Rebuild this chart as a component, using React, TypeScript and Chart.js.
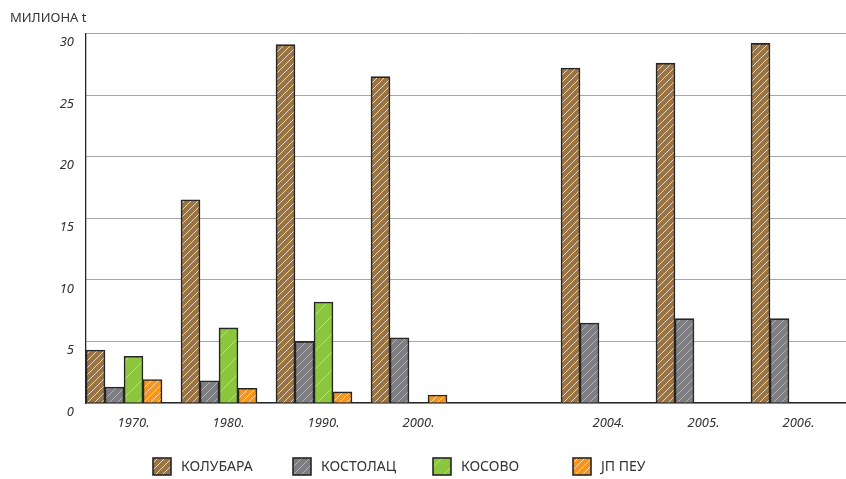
import React, { useEffect, useRef } from 'react';
import { Chart, registerables } from 'chart.js';

Chart.register(...registerables);

const categories = ['1970.', '1980.', '1990.', '2000.', '', '2004.', '2005.', '2006.'];
const kolubara = [4.3, 16.5, 29.1, 26.5, null, 27.2, 27.6, 29.2];
const kostolac = [1.3, 1.8, 5.0, 5.3, null, 6.5, 6.85, 6.85];
const kosovo = [3.8, 6.1, 8.2, 0, null, null, null, null];
const jpPeu = [1.9, 1.2, 0.9, 0.65, null, null, null, null];
const seriesLabels = ['КОЛУБАРА', 'КОСТОЛАЦ', 'КОСОВО', 'ЈП ПЕУ'];
const seriesColors = ['#9b7443', '#7e7e82', '#8cc63f', '#f7941d'];
const yAxisTitle = 'МИЛИОНА t';
const yMin = 0;
const yMax = 30;
const yStep = 5;

const FONT = "'Noto Sans', 'DejaVu Sans', sans-serif";
const TEXT = '#333333';
const EDGE = '#262626';

function makePattern(color: string, size: number, alpha: number, width: number) {
  const c = document.createElement('canvas');
  c.width = size;
  c.height = size;
  const g = c.getContext('2d') as CanvasRenderingContext2D;
  g.fillStyle = color;
  g.fillRect(0, 0, size, size);
  g.strokeStyle = `rgba(255,255,255,${alpha})`;
  g.lineWidth = width;
  g.beginPath();
  for (const k of [-size, 0, size]) {
    g.moveTo(k, size);
    g.lineTo(k + size, 0);
  }
  g.stroke();
  return g.createPattern(c, 'repeat') as CanvasPattern;
}

const legendPlugin = {
  id: 'sketchLegend',
  afterDraw(chart: any) {
    const ctx = chart.ctx as CanvasRenderingContext2D;
    const items = chart.data.datasets.filter((d: any) => d.label);
    const colW = 140;
    const start = chart.width / 2 - (items.length * colW) / 2 + 10;
    const cy = chart.height - 12;
    ctx.save();
    items.forEach((d: any, i: number) => {
      const x = start + i * colW;
      ctx.fillStyle = d.backgroundColor;
      ctx.fillRect(x, cy - 9, 18, 17);
      ctx.strokeStyle = EDGE;
      ctx.lineWidth = 1.6;
      ctx.strokeRect(x, cy - 9, 18, 17);
      ctx.fillStyle = TEXT;
      ctx.font = `14px ${FONT}`;
      ctx.textBaseline = 'middle';
      ctx.textAlign = 'left';
      ctx.fillText(d.label, x + 28, cy);
    });
    ctx.restore();
  },
};

export default function App() {
  const ref = useRef<HTMLCanvasElement | null>(null);

  useEffect(() => {
    document.body.style.margin = '0';
    const canvas = ref.current;
    if (!canvas) return;
    const patterns = [
      makePattern(seriesColors[0], 7, 0.7, 1.0),
      makePattern(seriesColors[1], 8, 0.4, 1.0),
      makePattern(seriesColors[2], 18, 0.4, 1.0),
      makePattern(seriesColors[3], 7, 0.7, 1.0),
    ];
    const values = [kolubara, kostolac, kosovo, jpPeu];
    const datasets: any[] = values.map((v, i) => ({
      label: seriesLabels[i],
      data: v,
      backgroundColor: patterns[i],
      borderColor: EDGE,
      borderWidth: 1.6,
      borderSkipped: 'start',
      categoryPercentage: 1,
      barPercentage: 1,
    }));
    // empty spacer slot so each group sits at the left of its category
    datasets.push({
      label: '',
      data: categories.map(() => null),
      backgroundColor: 'transparent',
      borderWidth: 0,
      categoryPercentage: 1,
      barPercentage: 1,
    });

    const chart = new Chart(canvas, {
      type: 'bar',
      data: { labels: categories, datasets },
      plugins: [legendPlugin],
      options: {
        responsive: false,
        animation: false,
        layout: { padding: { left: 10, right: 0, top: 0, bottom: 46 } },
        plugins: {
          legend: { display: false },
          tooltip: { enabled: false },
          title: {
            display: true,
            text: yAxisTitle,
            align: 'start',
            color: TEXT,
            font: { family: FONT, size: 13, weight: 'normal' },
            padding: { top: 10, bottom: 8 },
          },
        },
        scales: {
          x: {
            grid: { display: false, drawTicks: false },
            border: { display: true, color: EDGE, width: 1.3 },
            ticks: {
              color: TEXT,
              font: { family: FONT, size: 13, style: 'italic' },
              padding: 12,
              maxRotation: 0,
              autoSkip: false,
            },
            afterFit: (s: any) => { s.height = 30; },
          },
          y: {
            min: yMin,
            max: yMax,
            ticks: {
              stepSize: yStep,
              color: TEXT,
              font: { family: FONT, size: 13, style: 'italic' },
              padding: 12,
              labelOffset: 9,
            },
            grid: { color: 'rgba(0,0,0,0.35)', lineWidth: 1, drawTicks: false },
            border: { display: true, color: EDGE, width: 1.3 },
            afterFit: (s: any) => { s.width = 76; },
          },
        },
      },
    });
    return () => chart.destroy();
  }, []);

  return <canvas ref={ref} width={846} height={479} style={{ display: 'block' }} />;
}
